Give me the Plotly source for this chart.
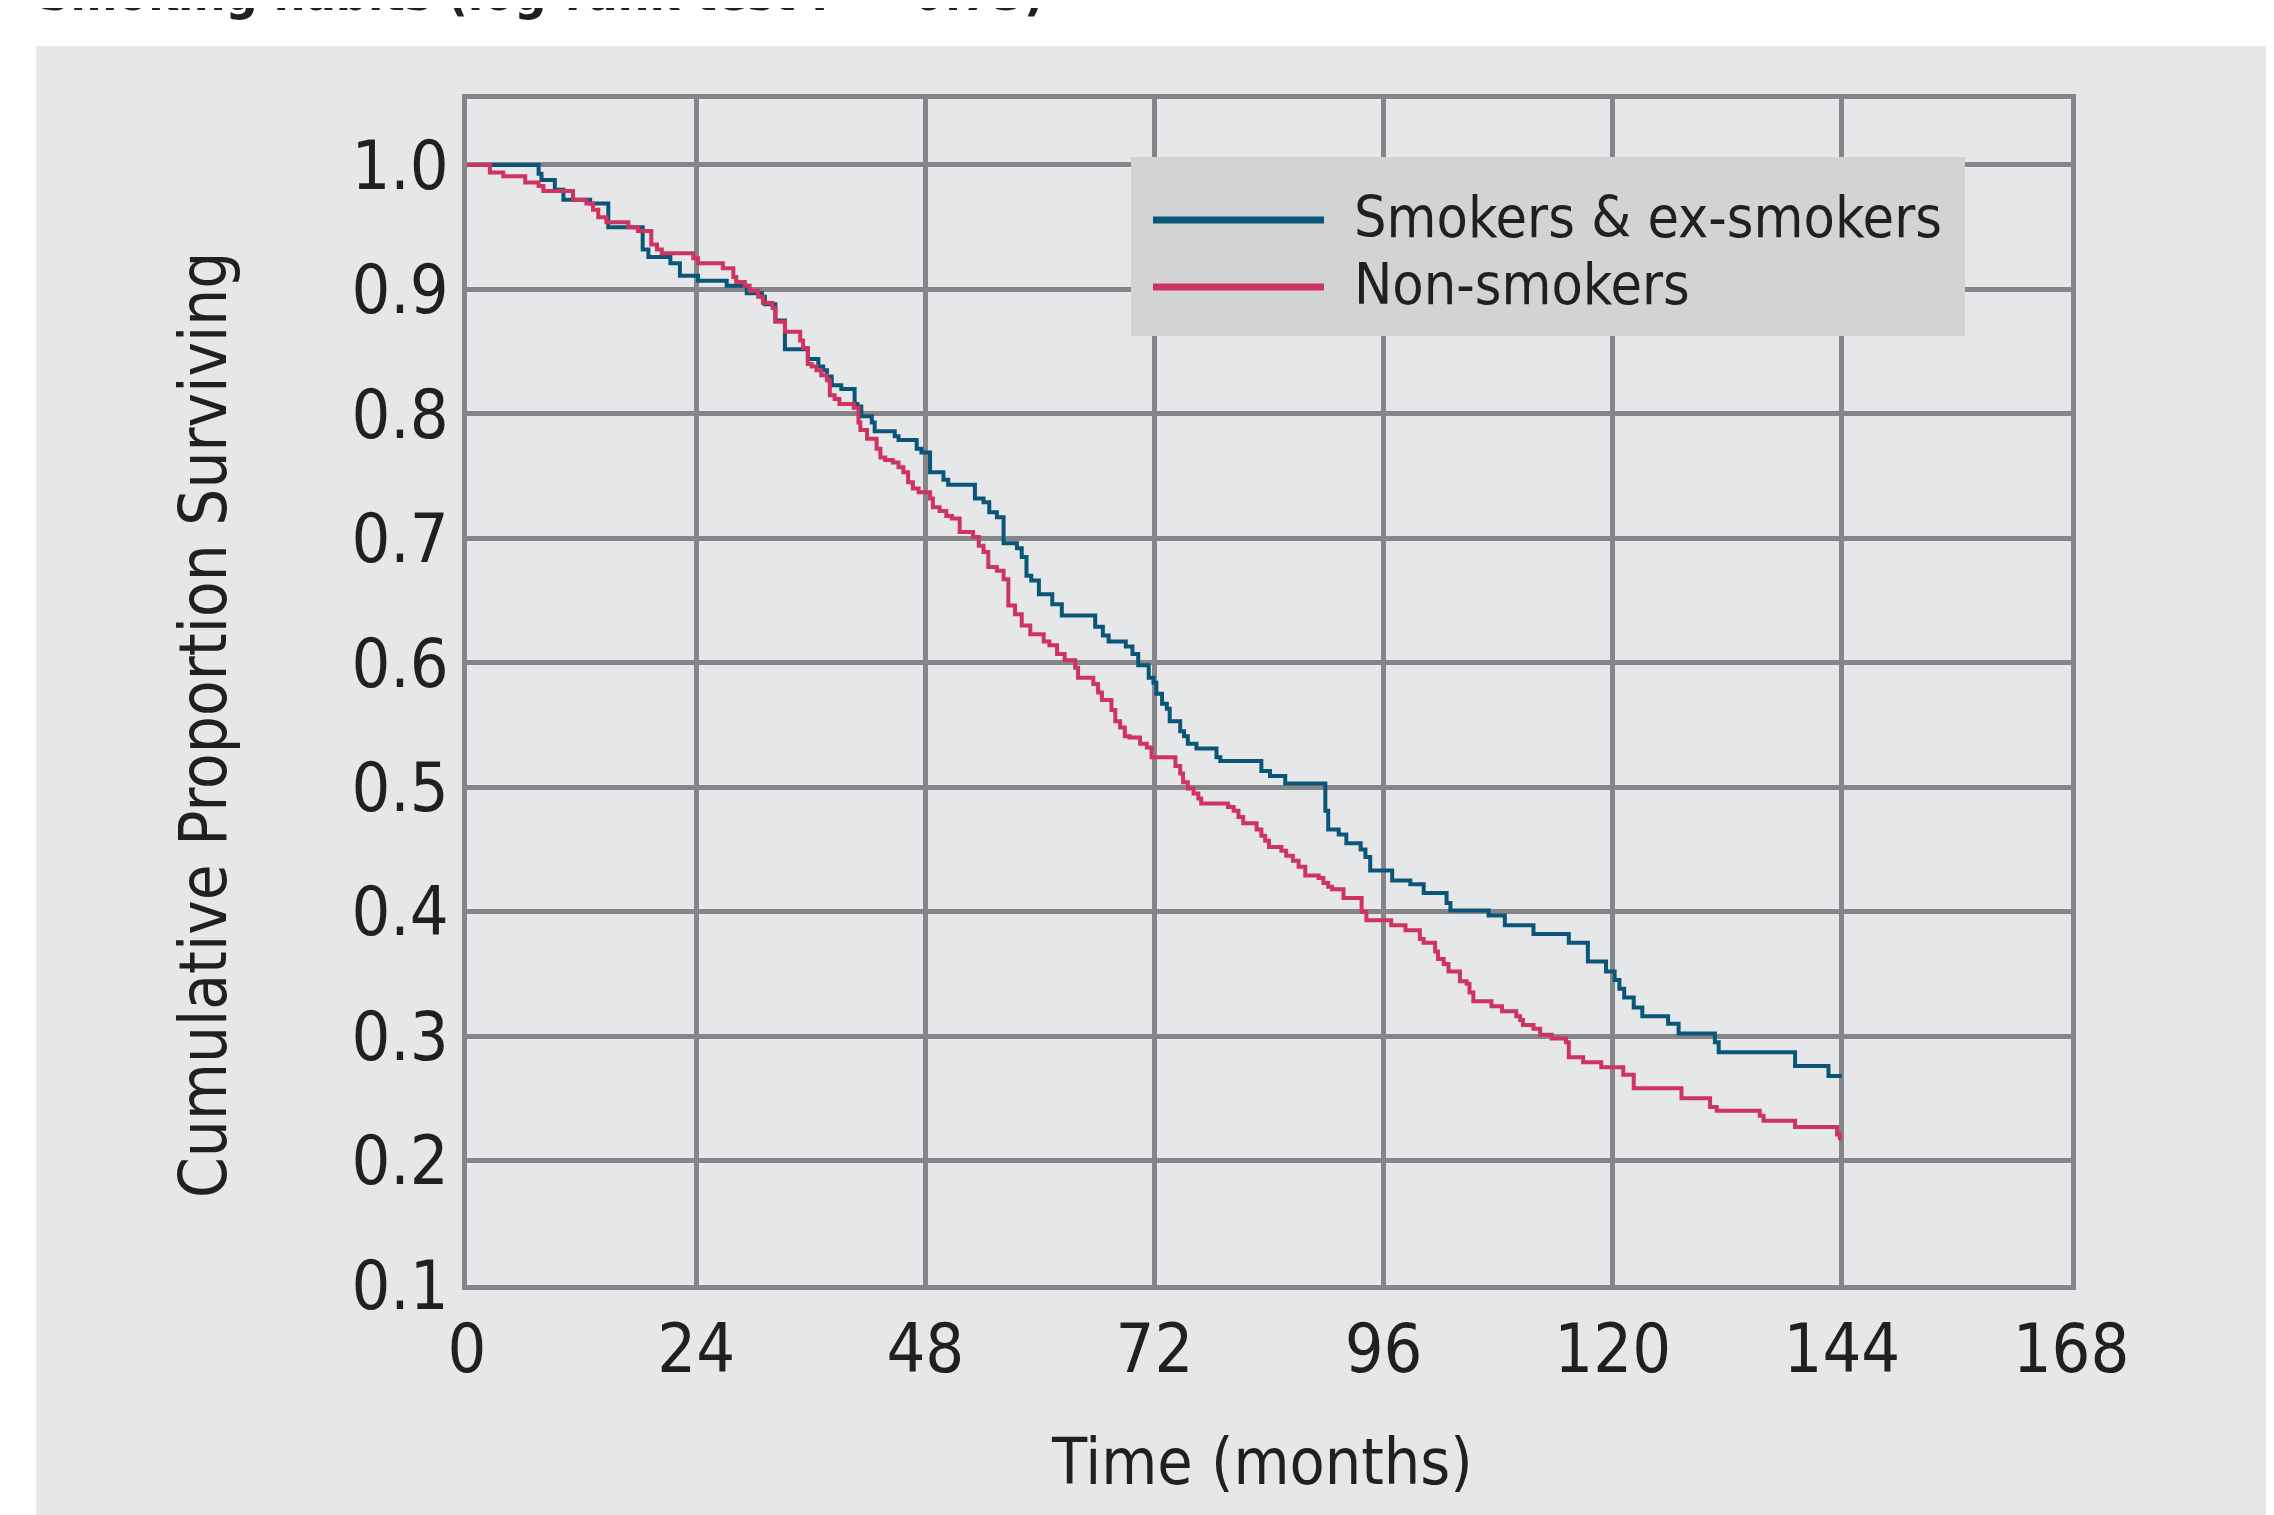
import plotly.graph_objects as go

# ---------------- data ----------------
series_names = ["Smokers & ex-smokers", "Non-smokers"]

smokers_t = [0, 7.5, 7.8, 9.2, 10.1, 12.9, 14.8, 18.4, 19.0, 21.3, 22.3, 24.2, 27.2, 29.3,
             30.9, 31.2, 32.3, 33.3, 35.7, 36.8, 37.3, 37.7, 38.2, 39.2, 40.6, 40.9, 41.3,
             42.4, 42.7, 44.8, 45.2, 47.1, 47.6, 48.5, 49.9, 50.4, 53.2, 54.1, 54.7, 55.5,
             56.2, 57.6, 58.1, 58.6, 59.1, 59.9, 61.3, 62.3, 65.8, 66.6, 67.2, 69.0, 69.7,
             70.3, 71.4, 71.9, 72.2, 72.8, 73.3, 73.6, 74.7, 75.1, 75.5, 76.4, 78.5, 78.9,
             83.2, 84.1, 85.7, 89.9, 90.2, 91.3, 92.1, 93.6, 94.1, 94.6, 96.9, 98.8, 100.2,
             102.6, 103.0, 107.0, 108.7, 111.7, 115.4, 117.4, 119.3, 120.2, 120.7, 121.2,
             122.2, 123.1, 125.8, 126.9, 130.7, 131.1, 139.1, 142.6, 144.0]
smokers_s = [1.0, 0.993, 0.988, 0.980, 0.972, 0.969, 0.950, 0.932, 0.926, 0.921, 0.911, 0.907,
             0.903, 0.897, 0.894, 0.888, 0.875, 0.852, 0.844, 0.838, 0.835, 0.830, 0.823,
             0.820, 0.808, 0.806, 0.798, 0.793, 0.786, 0.782, 0.779, 0.772, 0.769, 0.753,
             0.747, 0.743, 0.732, 0.729, 0.721, 0.717, 0.696, 0.692, 0.685, 0.670, 0.666,
             0.655, 0.647, 0.638, 0.629, 0.622, 0.617, 0.613, 0.607, 0.598, 0.588, 0.584,
             0.575, 0.567, 0.563, 0.553, 0.545, 0.541, 0.535, 0.531, 0.524, 0.521, 0.513,
             0.509, 0.503, 0.481, 0.466, 0.462, 0.455, 0.450, 0.444, 0.433, 0.425, 0.422,
             0.415, 0.407, 0.401, 0.397, 0.389, 0.382, 0.375, 0.360, 0.352, 0.345, 0.338,
             0.331, 0.323, 0.316, 0.310, 0.302, 0.295, 0.287, 0.276, 0.268, 0.268]

nonsmokers_t = [0, 2.4, 3.8, 6.1, 7.5, 8.0, 11.1, 12.5, 13.2, 13.75, 14.6, 16.9, 17.9, 19.3,
                19.9, 20.4, 23.7, 24.2, 26.8, 27.9, 28.2, 29.1, 29.6, 30.5, 31.0, 32.0, 32.3,
                33.3, 34.9, 35.2, 35.7, 36.1, 36.6, 37.1, 37.7, 38.0, 38.5, 39.0, 40.5, 41.0,
                41.2, 41.9, 42.9, 43.3, 43.8, 44.6, 45.2, 45.7, 46.2, 46.7, 47.3, 48.5, 48.8,
                49.5, 50.2, 50.8, 51.6, 53.0, 53.6, 54.1, 54.6, 55.5, 56.2, 56.7, 57.4, 58.1,
                59.0, 60.4, 61.0, 61.8, 62.6, 63.7, 64.0, 65.6, 66.1, 66.5, 67.5, 67.9, 68.4,
                68.9, 69.4, 70.5, 71.2, 71.7, 74.2, 74.7, 75.0, 75.5, 76.1, 76.6, 76.9, 79.7,
                80.3, 80.8, 81.3, 82.7, 83.2, 83.6, 84.0, 85.3, 85.8, 86.5, 87.1, 87.8, 89.2,
                89.7, 90.2, 90.6, 91.8, 93.7, 94.2, 96.8, 98.3, 99.8, 100.2, 101.4, 101.7,
                102.3, 102.8, 104.0, 104.7, 105.0, 105.4, 107.3, 108.4, 109.9, 110.3, 110.6,
                111.7, 112.4, 113.6, 115.1, 115.4, 116.9, 118.8, 121.1, 122.2, 127.2, 130.2,
                130.9, 135.4, 135.8, 139.1, 143.5, 143.8, 144.0]
nonsmokers_s = [1.0, 0.994, 0.991, 0.986, 0.983, 0.979, 0.972, 0.969, 0.964, 0.958, 0.954,
                0.950, 0.947, 0.936, 0.932, 0.929, 0.925, 0.921, 0.917, 0.910, 0.906, 0.903,
                0.899, 0.894, 0.889, 0.885, 0.874, 0.866, 0.859, 0.853, 0.840, 0.838, 0.835,
                0.831, 0.827, 0.815, 0.812, 0.808, 0.805, 0.793, 0.787, 0.780, 0.772, 0.765,
                0.763, 0.761, 0.757, 0.753, 0.745, 0.740, 0.737, 0.732, 0.725, 0.722, 0.718,
                0.716, 0.705, 0.701, 0.694, 0.689, 0.677, 0.674, 0.667, 0.646, 0.639, 0.630,
                0.623, 0.617, 0.614, 0.607, 0.602, 0.596, 0.588, 0.583, 0.576, 0.570, 0.562,
                0.553, 0.548, 0.541, 0.540, 0.535, 0.532, 0.524, 0.517, 0.511, 0.504, 0.499,
                0.495, 0.491, 0.487, 0.484, 0.481, 0.476, 0.471, 0.466, 0.461, 0.457, 0.452,
                0.449, 0.445, 0.441, 0.436, 0.429, 0.427, 0.423, 0.420, 0.418, 0.411, 0.400,
                0.393, 0.389, 0.385, 0.378, 0.375, 0.368, 0.362, 0.358, 0.352, 0.344, 0.342,
                0.335, 0.328, 0.324, 0.320, 0.316, 0.313, 0.309, 0.306, 0.301, 0.298, 0.295,
                0.283, 0.279, 0.275, 0.269, 0.258, 0.250, 0.243, 0.240, 0.236, 0.232, 0.227,
                0.221, 0.218, 0.218]

x_tick_vals = [0, 24, 48, 72, 96, 120, 144, 168]
y_tick_vals = [0.1, 0.2, 0.3, 0.4, 0.5, 0.6, 0.7, 0.8, 0.9, 1.0]
y_tick_text = ["0.1", "0.2", "0.3", "0.4", "0.5", "0.6", "0.7", "0.8", "0.9", "1.0"]

title_text = "Smoking habits (log-rank test P = 0.73)"
x_title = "Time (months)"
y_title = "Cumulative Proportion Surviving"

# ---------------- styling ----------------
OFF = 8                       # default page margin of the html body
PAGE_W, PAGE_H = 2274, 1515
W, H = PAGE_W - OFF, PAGE_H - OFF
AX_L, AX_R, AX_T, AX_B = 467, 2071, 99, 1285   # plot-area edges in page pixels
L = AX_L - OFF
T = AX_T - OFF
R = W - (AX_R - OFF)
B = H - (AX_B - OFF)
PW, PH = W - L - R, H - T - B

def px_x(px):
    return (px - OFF - L) / PW

def px_y(py):
    return (H - B - (py - OFF)) / PH

FONT = "Liberation Sans Narrow, DejaVu Sans Condensed, Arial Narrow, sans-serif"
TXT = "#231f20"
GRID = "#848689"
PANEL = "#e6e7e8"
BLUE = "#0b5678"
RED = "#cf3361"
colors = [BLUE, RED]

fig = go.Figure()
for name, xs, ys, c in zip(series_names, [smokers_t, nonsmokers_t],
                           [smokers_s, nonsmokers_s], colors):
    fig.add_trace(go.Scatter(x=xs, y=ys, mode="lines", name=name,
                             line=dict(color=c, width=4, shape="hv")))

fig.update_layout(
    width=W, height=H, autosize=False,
    margin=dict(l=L, r=R, t=T, b=B, pad=0),
    paper_bgcolor=PANEL, plot_bgcolor=PANEL,
    showlegend=False,
    font=dict(family=FONT, color=TXT, size=68),
)
fig.update_xaxes(range=[0, 168], tickvals=x_tick_vals, ticktext=[str(v) for v in x_tick_vals],
                 showgrid=True, gridcolor=GRID, gridwidth=4.5,
                 showline=True, linecolor=GRID, linewidth=5, mirror=True,
                 ticks="", tickfont=dict(family=FONT, size=68, color=TXT), zeroline=False)
fig.update_yaxes(range=[0.1, 1.053], tickvals=y_tick_vals, ticktext=y_tick_text,
                 showgrid=True, gridcolor=GRID, gridwidth=4.5,
                 showline=True, linecolor=GRID, linewidth=4.5, mirror=True,
                 ticks="", tickfont=dict(family=FONT, size=68, color=TXT), zeroline=False)

shapes = [
    # white page margins around the grey panel
    dict(type="rect", xref="paper", yref="paper", x0=px_x(-20), x1=px_x(PAGE_W + 20),
         y0=px_y(46), y1=px_y(-20), fillcolor="white", line=dict(width=0), layer="below"),
    dict(type="rect", xref="paper", yref="paper", x0=px_x(-20), x1=px_x(36),
         y0=px_y(PAGE_H + 20), y1=px_y(-20), fillcolor="white", line=dict(width=0), layer="below"),
    # legend box
    dict(type="rect", xref="paper", yref="paper", x0=px_x(1131), x1=px_x(1965),
         y0=px_y(336), y1=px_y(157), fillcolor="#d1d3d4", line=dict(width=0), layer="above"),
]
annotations = [
    dict(text=title_text, xref="paper", yref="paper", x=px_x(36), y=px_y(24),
         xanchor="left", yanchor="bottom", showarrow=False,
         font=dict(family=FONT, size=50, color=TXT, weight="bold")),
    dict(text=x_title, xref="paper", yref="paper", x=px_x(1262), y=px_y(1462),
         xanchor="center", yanchor="middle", showarrow=False,
         font=dict(family=FONT, size=64, color=TXT)),
    dict(text=y_title, xref="paper", yref="paper", x=px_x(203), y=px_y(725),
         xanchor="center", yanchor="middle", showarrow=False, textangle=-90,
         font=dict(family=FONT, size=65, color=TXT)),
]
legend_y = [220, 287]
for name, c, ly in zip(series_names, colors, legend_y):
    shapes.append(dict(type="line", xref="paper", yref="paper", x0=px_x(1153), x1=px_x(1324),
                       y0=px_y(ly), y1=px_y(ly), line=dict(color=c, width=7), layer="above"))
    annotations.append(dict(text=name, xref="paper", yref="paper", x=px_x(1352), y=px_y(ly - 3),
                            xanchor="left", yanchor="middle", showarrow=False,
                            font=dict(family=FONT, size=57, color=TXT)))

fig.update_layout(shapes=shapes, annotations=annotations)
fig.write_html("out.html")
